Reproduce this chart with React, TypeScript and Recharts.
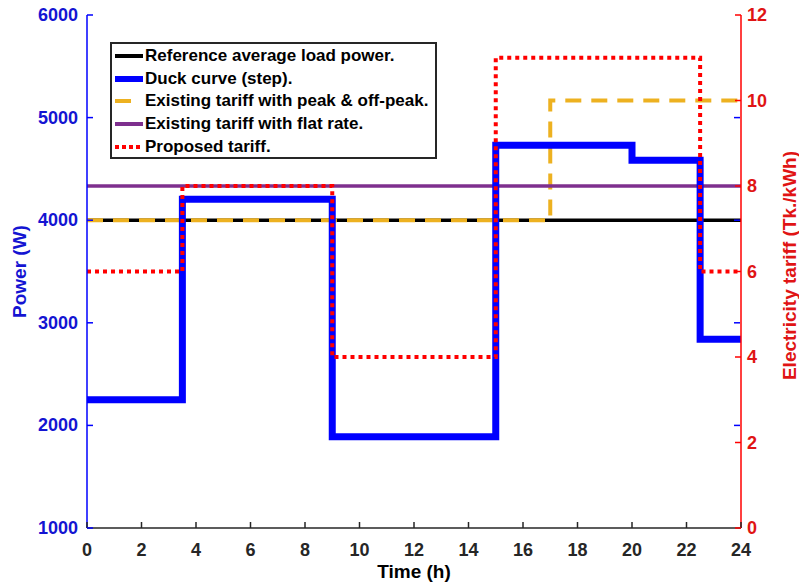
import { LineChart, Line, XAxis, YAxis, Legend } from 'recharts';

// time axis (h)
const hourTicks = [0, 2, 4, 6, 8, 10, 12, 14, 16, 18, 20, 22, 24];
const powerTicks = [1000, 2000, 3000, 4000, 5000, 6000];
const tariffTicks = [0, 2, 4, 6, 8, 10, 12];

// power side (W)
const referenceHours = [0, 24];
const referencePower = [4000, 4000];
const duckHours = [0, 3.5, 9, 15, 20, 22.5, 24];
const duckPower = [2250, 4205, 1890, 4730, 4585, 2840, 2840];

// tariff side (Tk./kWh)
const peakHours = [0, 17, 24];
const peakTariff = [7.2, 10, 10];
const flatHours = [0, 24];
const flatTariff = [8, 8];
const proposedHours = [0, 3.5, 9, 15, 22.5, 24];
const proposedTariff = [6, 8, 4, 11, 6, 6];

const POWER_DOMAIN = [1000, 6000];
const TARIFF_DOMAIN = [0, 12];

// left-axis ticks repeated on the right side (matlab box), expressed in tariff units
const echoTicks = powerTicks.map(
  (p) => ((p - POWER_DOMAIN[0]) / (POWER_DOMAIN[1] - POWER_DOMAIN[0])) * (TARIFF_DOMAIN[1] - TARIFF_DOMAIN[0]),
);
const rightTicks = [...new Set([...tariffTicks, ...echoTicks])].sort((a, b) => a - b);

const BLUE = '#0000ff';
const RED = '#ff0000';
const ORANGE = '#edb120';
const PURPLE = '#7e2f8e';
const AXIS = '#262626';
const FONT = '"Liberation Sans", Arial, sans-serif';

const zip = (hours: number[], values: number[]) => hours.map((h, i) => ({ h, v: values[i] }));

function LeftTick({ x, y, payload }: any) {
  return (
    <g>
      <text x={x - 9} y={y} textAnchor="end" dominantBaseline="central" fill="#1414d2" fontSize={18} fontWeight="bold">
        {payload.value}
      </text>
      <line x1={x} x2={x + 6} y1={y} y2={y} stroke={BLUE} strokeWidth={1.5} />
    </g>
  );
}

function RightTick({ x, y, payload }: any) {
  if (!tariffTicks.includes(payload.value)) {
    return <line x1={x - 1} x2={x - 7} y1={y} y2={y} stroke={BLUE} strokeWidth={1.5} />;
  }
  return (
    <g>
      <text x={x + 6} y={y} textAnchor="start" dominantBaseline="central" fill="#e01414" fontSize={18} fontWeight="bold">
        {payload.value}
      </text>
      <line x1={x} x2={x - 6} y1={y} y2={y} stroke={RED} strokeWidth={1.5} />
    </g>
  );
}

function BottomTick({ x, y, payload }: any) {
  return (
    <g>
      <text x={x} y={y + 28} textAnchor="middle" fill={AXIS} fontSize={18} fontWeight="bold">
        {payload.value}
      </text>
      <line x1={x} x2={x} y1={y} y2={y - 6} stroke={AXIS} strokeWidth={1.5} />
    </g>
  );
}

function TopTick({ x, y }: any) {
  return <line x1={x} x2={x} y1={y} y2={y + 6} stroke={AXIS} strokeWidth={1.5} />;
}

const legendItems = [
  { name: 'Reference average load power.', color: '#000000', width: 4, dash: undefined, len: 28 },
  { name: 'Duck curve (step).', color: BLUE, width: 6, dash: undefined, len: 28 },
  { name: 'Existing tariff with peak & off-peak.', color: ORANGE, width: 4, dash: undefined, len: 16 },
  { name: 'Existing tariff with flat rate.', color: PURPLE, width: 4, dash: undefined, len: 28 },
  { name: 'Proposed tariff.', color: RED, width: 4, dash: '4 3', len: 27 },
];

function LegendBox() {
  return (
    <div
      style={{
        boxSizing: 'border-box',
        width: 327,
        height: 117,
        paddingTop: 1,
        border: `2px solid ${AXIS}`,
        background: '#ffffff',
        fontFamily: FONT,
        fontWeight: 'bold',
        fontSize: 17,
        color: '#000000',
      }}
    >
      {legendItems.map((it) => (
        <div key={it.name} style={{ display: 'flex', alignItems: 'center', height: 22.6, whiteSpace: 'nowrap' }}>
          <svg width={33} height={10} style={{ flex: 'none' }}>
            <line x1={3} x2={3 + it.len} y1={5} y2={5} stroke={it.color} strokeWidth={it.width} strokeDasharray={it.dash} />
          </svg>
          <span>{it.name}</span>
        </div>
      ))}
    </div>
  );
}

export default function App() {
  return (
    <div style={{ position: 'absolute', left: 0, top: 0, background: '#ffffff' }}>
      <LineChart width={799} height={583} margin={{ top: 15, right: 0, bottom: 0, left: 0 }} style={{ fontFamily: FONT }}>
        <XAxis
          xAxisId="bottom"
          type="number"
          dataKey="h"
          domain={[0, 24]}
          ticks={hourTicks}
          height={55}
          tickSize={0}
          tickMargin={0}
          tickLine={false}
          tick={<BottomTick />}
          axisLine={{ stroke: AXIS, strokeWidth: 1.5 }}
          label={(p: any) => (
            <text
              x={p.viewBox.x + p.viewBox.width / 2}
              y={p.viewBox.y + 50}
              textAnchor="middle"
              fill="#000000"
              fontSize={19}
              fontWeight="bold"
            >
              Time (h)
            </text>
          )}
        />
        <XAxis
          xAxisId="top"
          orientation="top"
          type="number"
          dataKey="h"
          domain={[0, 24]}
          ticks={hourTicks}
          height={0}
          tickSize={0}
          tickMargin={0}
          tickLine={false}
          tick={<TopTick />}
          axisLine={{ stroke: AXIS, strokeWidth: 1.5 }}
        />
        <YAxis
          yAxisId="power"
          orientation="left"
          domain={POWER_DOMAIN}
          ticks={powerTicks}
          width={87}
          tickSize={0}
          tickMargin={0}
          tickLine={false}
          tick={<LeftTick />}
          axisLine={{ stroke: BLUE, strokeWidth: 1.5 }}
          label={(p: any) => {
            const cx = p.viewBox.x + 19;
            const cy = p.viewBox.y + p.viewBox.height / 2;
            return (
              <text
                x={cx}
                y={cy}
                transform={`rotate(-90, ${cx}, ${cy})`}
                textAnchor="middle"
                dominantBaseline="central"
                fill="#1414d2"
                fontSize={19}
                fontWeight="bold"
              >
                Power (W)
              </text>
            );
          }}
        />
        <YAxis
          yAxisId="tariff"
          orientation="right"
          domain={TARIFF_DOMAIN}
          ticks={rightTicks}
          interval={0}
          width={58}
          tickSize={0}
          tickMargin={0}
          tickLine={false}
          tick={<RightTick />}
          axisLine={{ stroke: RED, strokeWidth: 1.5 }}
          label={(p: any) => {
            const cx = p.viewBox.x + 48;
            const cy = p.viewBox.y + p.viewBox.height / 2 - 6;
            return (
              <text
                x={cx}
                y={cy}
                transform={`rotate(-90, ${cx}, ${cy})`}
                textAnchor="middle"
                dominantBaseline="central"
                fill="#e01414"
                fontSize={19}
                fontWeight="bold"
              >
                Electricity tariff (Tk./kWh)
              </text>
            );
          }}
        />
        <Legend
          layout="vertical"
          align="center"
          verticalAlign="middle"
          content={<LegendBox />}
          wrapperStyle={{ left: 110, top: 42, width: 327, height: 117 }}
        />
        <Line
          data={zip(referenceHours, referencePower)}
          dataKey="v"
          xAxisId="bottom"
          yAxisId="power"
          type="stepAfter"
          stroke="#000000"
          strokeWidth={3.5}
          dot={false}
          activeDot={false}
          isAnimationActive={false}
        />
        <Line
          data={zip(peakHours, peakTariff)}
          dataKey="v"
          xAxisId="bottom"
          yAxisId="tariff"
          type="stepAfter"
          stroke={ORANGE}
          strokeWidth={4}
          strokeDasharray="16 10"
          dot={false}
          activeDot={false}
          isAnimationActive={false}
        />
        <Line
          data={zip(flatHours, flatTariff)}
          dataKey="v"
          xAxisId="bottom"
          yAxisId="tariff"
          type="stepAfter"
          stroke={PURPLE}
          strokeWidth={3.5}
          dot={false}
          activeDot={false}
          isAnimationActive={false}
        />
        <Line
          data={zip(duckHours, duckPower)}
          dataKey="v"
          xAxisId="bottom"
          yAxisId="power"
          type="stepAfter"
          stroke={BLUE}
          strokeWidth={7}
          strokeLinejoin="miter"
          dot={false}
          activeDot={false}
          isAnimationActive={false}
        />
        <Line
          data={zip(proposedHours, proposedTariff)}
          dataKey="v"
          xAxisId="bottom"
          yAxisId="tariff"
          type="stepAfter"
          stroke={RED}
          strokeWidth={4}
          strokeDasharray="4 4"
          dot={false}
          activeDot={false}
          isAnimationActive={false}
        />
      </LineChart>
    </div>
  );
}
